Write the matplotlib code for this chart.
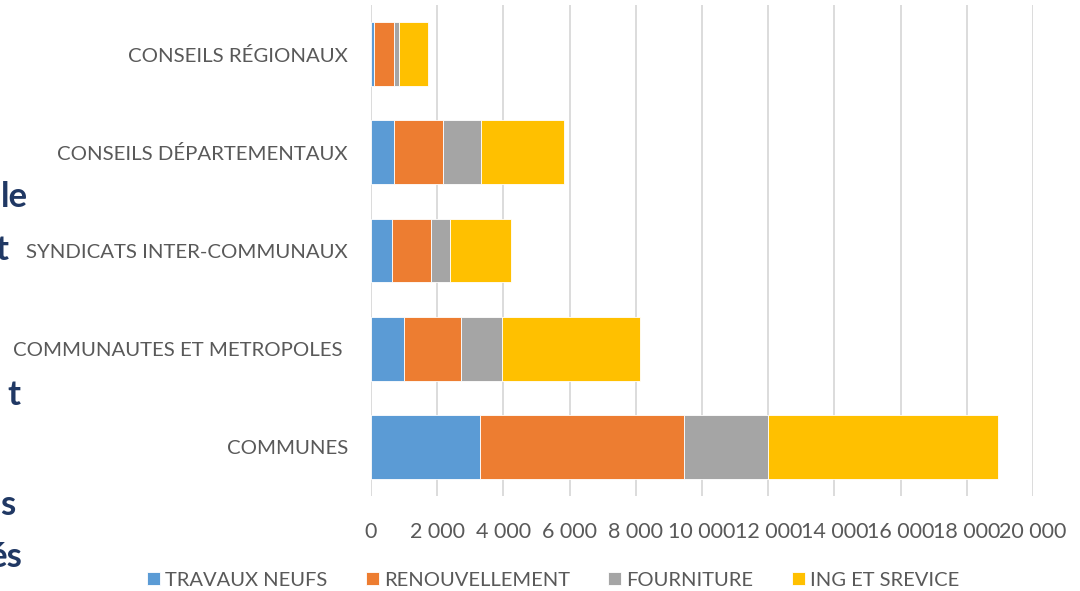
import matplotlib
matplotlib.use("Agg")
import matplotlib.pyplot as plt
from matplotlib.ticker import FixedLocator, FuncFormatter

categories = ["COMMUNES", "COMMUNAUTES ET METROPOLES ", "SYNDICATS INTER-COMMUNAUX",
              "CONSEILS DÉPARTEMENTAUX", "CONSEILS RÉGIONAUX"]
travaux_neufs = [3300, 1000, 640, 680, 100]
renouvellement = [6150, 1720, 1180, 1500, 580]
fourniture = [2540, 1240, 570, 1150, 170]
ing_service = [6950, 4170, 1840, 2510, 880]
series_names = ["TRAVAUX NEUFS", "RENOUVELLEMENT", "FOURNITURE", "ING ET SREVICE"]
colors = ["#5B9BD5", "#ED7D31", "#A5A5A5", "#FFC000"]
xticks = [0, 2000, 4000, 6000, 8000, 10000, 12000, 14000, 16000, 18000, 20000]

FONT = ["Lato", "DejaVu Sans"]
plt.rcParams['font.family'] = FONT

fig = plt.figure(figsize=(10.8, 5.91), dpi=100)
ax = fig.add_axes([371/1080, 1-496/591, (1033-371)/1080, (496-5)/591])

ypos = list(range(len(categories)))
left = [0]*len(categories)
handles = []
for vals, name, c in zip([travaux_neufs, renouvellement, fourniture, ing_service], series_names, colors):
    b = ax.barh(ypos, vals, left=left, height=0.65, color=c, edgecolor="white", linewidth=0.6, label=name)
    handles.append(b)
    left = [l+v for l, v in zip(left, vals)]

ax.set_ylim(-0.5, len(categories)-0.5)
ax.set_xlim(0, 20000)
ax.xaxis.set_major_locator(FixedLocator(xticks))
ax.xaxis.set_major_formatter(FuncFormatter(lambda v, p: f"{int(v):,}".replace(",", " ")))
ax.set_yticks(ypos)
ax.set_yticklabels(categories)
ax.grid(axis="x", color="#D9D9D9", linewidth=1.3)
ax.set_axisbelow(True)
for s in ax.spines.values():
    s.set_visible(False)
ax.tick_params(axis="y", length=0, labelsize=14.7, labelcolor="#595959", pad=16.5)
ax.tick_params(axis="x", length=0, labelsize=15.5, labelcolor="#595959", pad=19)

fig.legend(handles=handles, labels=series_names, loc="center", bbox_to_anchor=(553/1080, 1-580/591),
           ncol=4, frameon=False, fontsize=14.5, labelcolor="#595959", handlelength=0.65,
           handleheight=0.65, handletextpad=0.25, columnspacing=1.9)

navy = "#203864"
for txt, xr, yc in [("le", 28, 197), ("t", 8, 250), ("t", 20, 395), ("s", 15, 505), ("és", 23, 557)]:
    fig.text(xr/1080, 1-yc/591, txt, ha="right", va="center", fontsize=25, fontweight="bold",
             color=navy, family=FONT)

fig.savefig("out.png", dpi=100)
